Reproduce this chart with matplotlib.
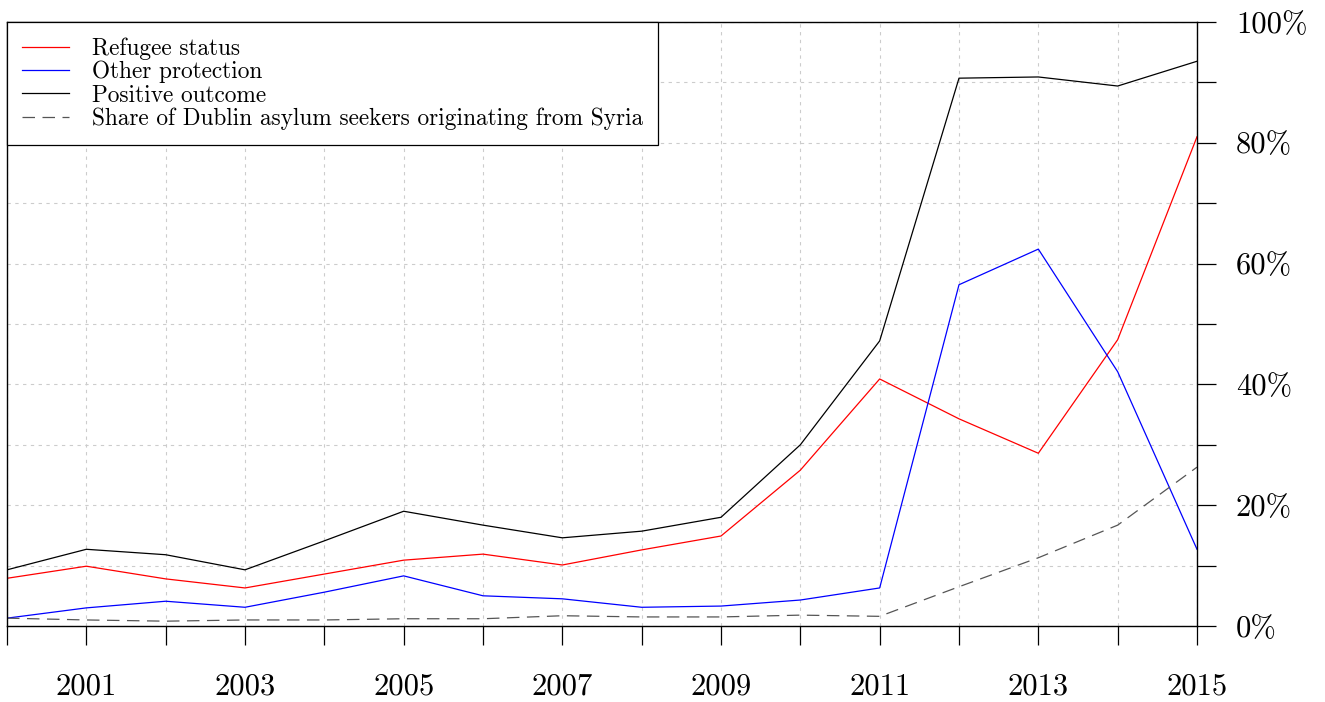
import matplotlib
matplotlib.use("Agg")
import matplotlib.pyplot as plt
import numpy as np

plt.rcParams['font.family'] = ['cmr10', 'DejaVu Serif']
plt.rcParams['mathtext.fontset'] = 'cm'
plt.rcParams['axes.formatter.use_mathtext'] = True

years = list(range(2000, 2016))
refugee_status = [7.9, 9.9, 7.8, 6.3, 8.6, 10.9, 11.9, 10.1, 12.6, 14.9, 25.8, 40.9, 34.3, 28.6, 47.4, 81.0]
other_protection = [1.3, 3.0, 4.1, 3.1, 5.6, 8.3, 5.0, 4.5, 3.1, 3.3, 4.3, 6.3, 56.5, 62.4, 42.1, 12.7]
positive_outcome = [9.3, 12.7, 11.8, 9.3, 14.1, 19.0, 16.7, 14.6, 15.7, 18.0, 30.0, 47.2, 90.7, 90.9, 89.4, 93.5]
syria_share = [1.3, 1.0, 0.8, 1.0, 1.0, 1.2, 1.2, 1.7, 1.5, 1.5, 1.8, 1.6, 6.5, 11.3, 16.7, 26.3]

series_labels = ["Refugee status", "Other protection", "Positive outcome",
                 "Share of Dublin asylum seekers originating from Syria"]
year_labels = [str(y) if y % 2 == 1 else "" for y in years]
pct_ticks = list(range(0, 101, 10))
pct_labels = [f"{p}%" if p % 20 == 0 else "" for p in pct_ticks]

fig = plt.figure(figsize=(13.25, 7.02), dpi=100)
ax = fig.add_axes([7 / 1325, 76 / 702, 1190 / 1325, 604 / 702])

lw = 0.9
ax.plot(years, refugee_status, color='red', lw=lw, label=series_labels[0])
ax.plot(years, other_protection, color='blue', lw=lw, label=series_labels[1])
ax.plot(years, positive_outcome, color='black', lw=lw, label=series_labels[2])
ax.plot(years, syria_share, color='#555555', lw=lw, dashes=(10, 6), label=series_labels[3])

ax.set_xlim(2000, 2015)
ax.set_ylim(0, 100)

ax.set_xticks(years)
ax.set_xticklabels(year_labels)
ax.set_yticks(pct_ticks)
ax.set_yticklabels(pct_labels)

ax.yaxis.tick_right()
ax.tick_params(axis='both', direction='out', length=14, width=0.9, labelsize=22)
ax.tick_params(axis='x', pad=20)
ax.tick_params(axis='y', pad=14)

ax.grid(True, color='#cccccc', linestyle=(0, (3, 4)), lw=0.8)
ax.set_axisbelow(True)
for sp in ax.spines.values():
    sp.set_linewidth(1.0)

leg = ax.legend(loc='upper left', fontsize=16.8, frameon=True, fancybox=False,
                borderaxespad=0, edgecolor='black', framealpha=1,
                handlelength=2.0, handletextpad=1.0, labelspacing=0.05,
                borderpad=0.65)
leg.get_frame().set_linewidth(0.9)

fig.savefig("out.png", dpi=100)
